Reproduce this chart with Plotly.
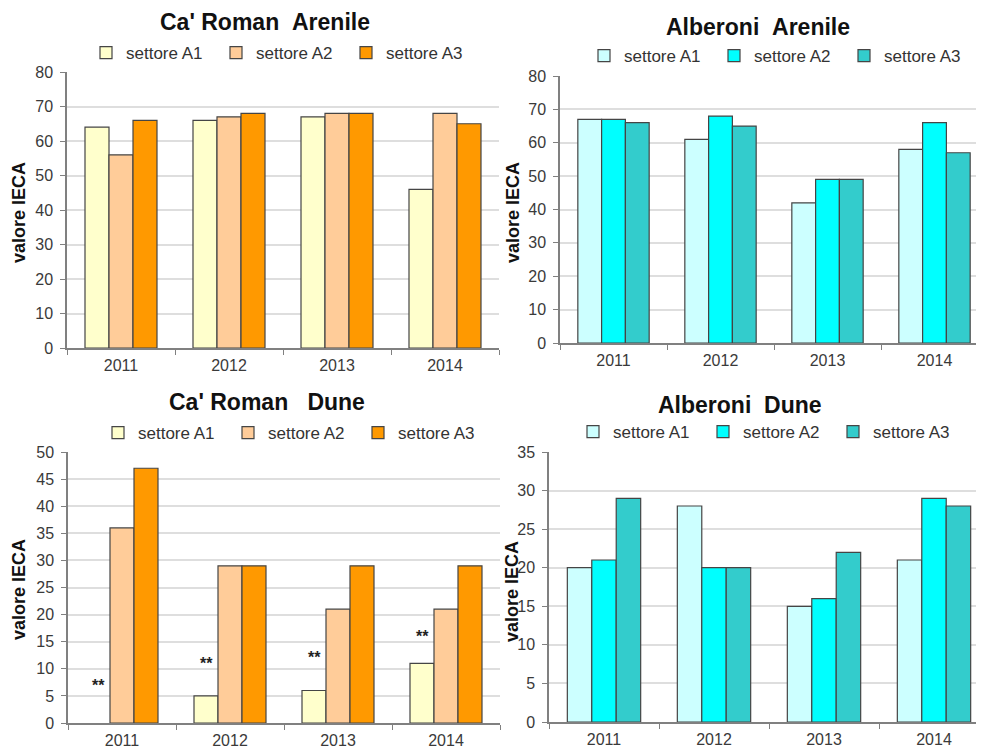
import plotly.graph_objects as go

years = ["2011", "2012", "2013", "2014"]
series_names = ["settore A1", "settore A2", "settore A3"]

# Ca' Roman Arenile
cr_arenile_a1 = [64, 66, 67, 46]
cr_arenile_a2 = [56, 67, 68, 68]
cr_arenile_a3 = [66, 68, 68, 65]
# Alberoni Arenile
al_arenile_a1 = [67, 61, 42, 58]
al_arenile_a2 = [67, 68, 49, 66]
al_arenile_a3 = [66, 65, 49, 57]
# Ca' Roman Dune
cr_dune_a1 = [None, 5, 6, 11]
cr_dune_a2 = [36, 29, 21, 21]
cr_dune_a3 = [47, 29, 29, 29]
cr_dune_note_y = [7, 11, 12, 16]
cr_dune_note = "**"
# Alberoni Dune
al_dune_a1 = [20, 28, 15, 21]
al_dune_a2 = [21, 20, 16, 29]
al_dune_a3 = [29, 20, 22, 28]

titles = ["Ca' Roman\u00a0\u00a0Arenile", "Alberoni\u00a0\u00a0Arenile",
          "Ca' Roman\u00a0\u00a0\u00a0Dune", "Alberoni\u00a0\u00a0Dune"]
y_title = "valore IECA"

cr_colors = ["#FFFFCC", "#FFCC99", "#FF9900"]
al_colors = ["#CCFFFF", "#00FFFF", "#33CCCC"]

W, H = 984, 746
OFF = 8  # page body margin
FONT = "Liberation Sans, Arial, sans-serif"


def px(x):
    return (x - OFF) / W


def py(y):
    return 1 - (y - OFF) / H


fig = go.Figure()

panels = [
    dict(data=[cr_arenile_a1, cr_arenile_a2, cr_arenile_a3], colors=cr_colors, ax="", leg="legend",
         xdom=(67, 499), ydom=(348, 72), yr=80, dt=10,
         title_xy=(265, 22), ytitle_xy=(19, 213), leg_xy=(86, 53)),
    dict(data=[al_arenile_a1, al_arenile_a2, al_arenile_a3], colors=al_colors, ax="2", leg="legend2",
         xdom=(560, 988), ydom=(343, 76), yr=80, dt=10,
         title_xy=(758, 27), ytitle_xy=(513, 213), leg_xy=(584, 56)),
    dict(data=[cr_dune_a1, cr_dune_a2, cr_dune_a3], colors=cr_colors, ax="3", leg="legend3",
         xdom=(68, 500), ydom=(723, 452), yr=50, dt=5,
         title_xy=(267, 402), ytitle_xy=(19, 590), leg_xy=(98, 433)),
    dict(data=[al_dune_a1, al_dune_a2, al_dune_a3], colors=al_colors, ax="4", leg="legend4",
         xdom=(549, 989), ydom=(722, 452), yr=35, dt=5,
         title_xy=(740, 405), ytitle_xy=(512, 592), leg_xy=(573, 432)),
]

annotations = []
layout_upd = {}
for i, p in enumerate(panels):
    ax = p["ax"]
    for k in range(3):
        fig.add_trace(go.Bar(
            x=years, y=p["data"][k], name=series_names[k],
            marker=dict(color=p["colors"][k], line=dict(color="#454545", width=1.2)),
            xaxis="x" + ax, yaxis="y" + ax, legend=p["leg"], hoverinfo="skip"))
    layout_upd["xaxis" + ax] = dict(
        domain=[px(p["xdom"][0]), px(p["xdom"][1])], anchor="y" + ax,
        type="category", range=[-0.5, 3.5], tickson="boundaries",
        ticks="outside", ticklen=5, tickcolor="#808080", ticklabelstandoff=2,
        showline=True, linecolor="#808080", linewidth=1.5, showgrid=False,
        tickfont=dict(size=16, color="#3a3a3a", family=FONT), fixedrange=True)
    layout_upd["yaxis" + ax] = dict(
        domain=[py(p["ydom"][0]), py(p["ydom"][1])], anchor="x" + ax,
        range=[0, p["yr"]], dtick=p["dt"], ticks="outside", ticklen=5, tickcolor="#808080",
        ticklabelstandoff=4,
        showline=True, linecolor="#808080", linewidth=1.5,
        showgrid=True, gridcolor="#dedede", gridwidth=1.5, zeroline=False,
        tickfont=dict(size=16, color="#3a3a3a", family=FONT), fixedrange=True)
    layout_upd[p["leg"]] = dict(
        orientation="h", x=px(p["leg_xy"][0]), y=py(p["leg_xy"][1]),
        xanchor="left", yanchor="middle", font=dict(size=17, color="#333333", family=FONT),
        bgcolor="rgba(0,0,0,0)", entrywidth=85, entrywidthmode="pixels",
        itemwidth=30, tracegroupgap=0, traceorder="normal")
    annotations.append(dict(
        text="<b>" + titles[i] + "</b>", xref="paper", yref="paper",
        x=px(p["title_xy"][0]), y=py(p["title_xy"][1]), xanchor="center", yanchor="middle",
        showarrow=False, font=dict(size=23, color="#111111", family=FONT)))
    annotations.append(dict(
        text="<b>" + y_title + "</b>", xref="paper", yref="paper", textangle=-90,
        x=px(p["ytitle_xy"][0]), y=py(p["ytitle_xy"][1]), xanchor="center", yanchor="middle",
        showarrow=False, font=dict(size=18, color="#111111", family=FONT)))

bar_w = (1 - 1 / 3) / 3
for j, yv in enumerate(cr_dune_note_y):
    annotations.append(dict(
        text="<b>" + cr_dune_note + "</b>", xref="x3", yref="y3", x=j - bar_w, y=yv,
        showarrow=False, xanchor="center", yanchor="middle",
        font=dict(size=16, color="#222222", family=FONT)))

fig.update_layout(
    width=W, height=H, margin=dict(l=0, r=0, t=0, b=0, autoexpand=False),
    paper_bgcolor="white", plot_bgcolor="white",
    barmode="group", bargap=1 / 3, bargroupgap=0,
    annotations=annotations, font=dict(family=FONT),
    **layout_upd)

fig.write_html("out.html")
